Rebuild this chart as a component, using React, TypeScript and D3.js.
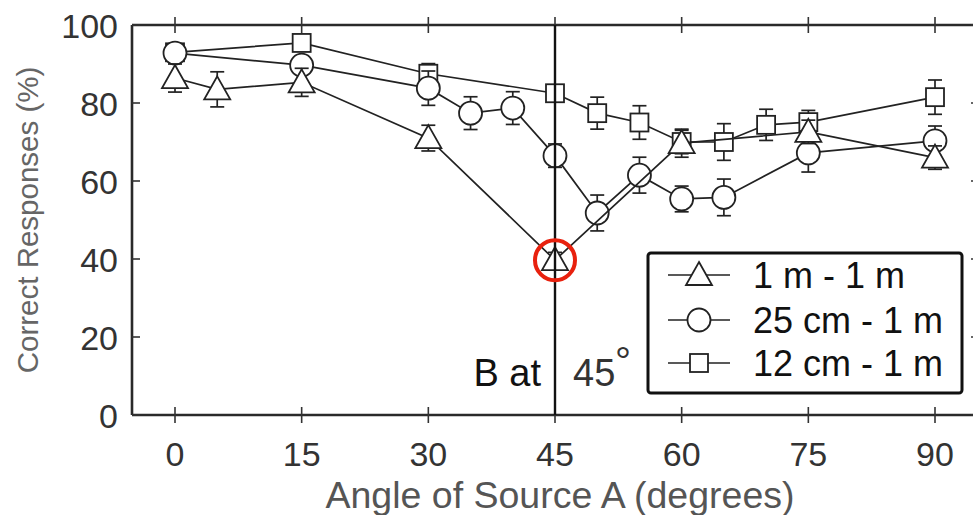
import React from "react";
import * as d3 from "d3";

const xTicks = [0, 15, 30, 45, 60, 75, 90];
const yTicks = [0, 20, 40, 60, 80, 100];

const triAngles = [0, 5, 15, 30, 45, 60, 75, 90];
const triValues = [86.4, 83.5, 85.3, 71, 39.7, 69.7, 72.6, 66];
const triErr = [3.6, 4.5, 3.6, 3.3, 2, 3.6, 3, 3];

const circAngles = [0, 15, 30, 35, 40, 45, 50, 55, 60, 65, 75, 90];
const circValues = [92.8, 89.7, 83.8, 77.4, 78.7, 66.5, 51.8, 61.5, 55.4, 55.8, 67.2, 70.3];
const circErr = [2, 2, 4.4, 4.2, 4.2, 3, 4.6, 4.6, 3.3, 4.7, 4.9, 3.8];

const sqAngles = [0, 15, 30, 45, 50, 55, 60, 65, 70, 75, 90];
const sqValues = [93, 95.4, 87.5, 82.5, 77.4, 75, 70, 70, 74.4, 75.1, 81.5];
const sqErr = [2, 2, 2.6, 2, 4.1, 4.3, 3, 4.7, 4, 3, 4.4];

const legendLabels = ["1 m - 1 m", "25 cm - 1 m", "12 cm - 1 m"];

const W = 973;
const H = 515;
const FONT = "'Liberation Sans', Arial, Helvetica, sans-serif";
const INK = "#222";

const x = d3.scaleLinear().domain([0, 90]).range([175, 935]);
const y = d3.scaleLinear().domain([0, 100]).range([415, 25]);

const frameL = 132;
const frameR = 979;

type Kind = "tri" | "circ" | "sq";

function Marker({ kind, cx, cy }: { kind: Kind; cx: number; cy: number }) {
  const common = { fill: "#fff", stroke: INK, strokeWidth: 1.8 };
  if (kind === "circ") return <circle cx={cx} cy={cy} r={11.5} {...common} />;
  if (kind === "sq") return <rect x={cx - 9} y={cy - 9} width={18} height={18} {...common} />;
  const p = `${cx},${cy - 13} ${cx + 13},${cy + 10} ${cx - 13},${cy + 10}`;
  return <polygon points={p} {...common} strokeLinejoin="miter" />;
}

function Series({ kind, angles, values, errs }: { kind: Kind; angles: number[]; values: number[]; errs: number[] }) {
  const pts = angles.map((a, i) => [x(a), y(values[i])] as [number, number]);
  const line = d3.line()(pts) || "";
  return (
    <g>
      <path d={line} fill="none" stroke={INK} strokeWidth={1.7} />
      {angles.map((a, i) => {
        const cx = x(a);
        const top = y(values[i] + errs[i]);
        const bot = y(values[i] - errs[i]);
        return (
          <g key={"e" + i} stroke={INK} strokeWidth={1.7}>
            <line x1={cx} x2={cx} y1={top} y2={bot} />
            <line x1={cx - 7} x2={cx + 7} y1={top} y2={top} />
            <line x1={cx - 7} x2={cx + 7} y1={bot} y2={bot} />
          </g>
        );
      })}
      {angles.map((a, i) => (
        <Marker key={"m" + i} kind={kind} cx={x(a)} cy={y(values[i])} />
      ))}
    </g>
  );
}

export default function App() {
  const legendRows = [275, 320, 363];
  const kinds: Kind[] = ["tri", "circ", "sq"];
  return (
    <svg width={W} height={H} style={{ position: "absolute", left: 0, top: 0, background: "#fff" }} fontFamily={FONT}>
      <rect x={0} y={0} width={W} height={H} fill="#fff" />
      {/* frame */}
      <g stroke="#2a2a2a" strokeWidth={2.6} fill="none">
        <line x1={frameL} x2={frameR} y1={y(100)} y2={y(100)} />
        <line x1={frameL} x2={frameR} y1={y(0)} y2={y(0)} />
        <line x1={frameL} x2={frameL} y1={y(100)} y2={y(0)} />
        <line x1={frameR} x2={frameR} y1={y(100)} y2={y(0)} />
      </g>
      {/* ticks */}
      <g stroke="#333" strokeWidth={1.6}>
        {xTicks.map((t) => (
          <g key={"xt" + t}>
            <line x1={x(t)} x2={x(t)} y1={y(0) - 8} y2={y(0) + 8} />
            <line x1={x(t)} x2={x(t)} y1={y(100) - 8} y2={y(100) + 8} />
          </g>
        ))}
        {yTicks.map((t) => (
          <g key={"yt" + t}>
            <line x1={frameL} x2={frameL + 8} y1={y(t)} y2={y(t)} />
            <line x1={frameR - 8} x2={frameR} y1={y(t)} y2={y(t)} />
          </g>
        ))}
      </g>
      {/* tick labels */}
      <g fill="#333" fontSize={34}>
        {xTicks.map((t) => (
          <text key={"xl" + t} x={x(t)} y={466} textAnchor="middle">
            {t}
          </text>
        ))}
        {yTicks.map((t) => (
          <text key={"yl" + t} x={118} y={y(t) + 13} textAnchor="end">
            {t}
          </text>
        ))}
      </g>
      {/* axis titles */}
      <text x={560} y={508} textAnchor="middle" fontSize={37.5} fill="#555">
        Angle of Source A (degrees)
      </text>
      <text transform={`translate(38,220) rotate(-90)`} textAnchor="middle" fontSize={29.5} fill="#666">
        Correct Responses (%)
      </text>
      {/* series */}
      <Series kind="sq" angles={sqAngles} values={sqValues} errs={sqErr} />
      <Series kind="circ" angles={circAngles} values={circValues} errs={circErr} />
      <Series kind="tri" angles={triAngles} values={triValues} errs={triErr} />
      {/* source B line */}
      <line x1={x(45)} x2={x(45)} y1={y(100)} y2={y(0)} stroke="#111" strokeWidth={2.4} />
      <text x={541} y={386} textAnchor="end" fontSize={38} fill="#111">
        B at
      </text>
      <text x={573} y={386} fontSize={38} fill="#333">
        45
      </text>
      <text x={615} y={375} fontSize={40} fill="#333">
        °
      </text>
      {/* red highlight */}
      <circle cx={x(45)} cy={y(triValues[4])} r={20} fill="none" stroke="#e8210e" strokeWidth={4} />
      {/* legend */}
      <rect x={648} y={253} width={314} height={140} rx={3} fill="#fff" stroke="#111" strokeWidth={3} />
      {legendLabels.map((lab, i) => (
        <g key={"lg" + i}>
          <line x1={668} x2={730} y1={legendRows[i]} y2={legendRows[i]} stroke={INK} strokeWidth={1.7} />
          <Marker kind={kinds[i]} cx={699} cy={legendRows[i]} />
          <text x={753} y={legendRows[i] + 13} fontSize={36} fill="#111">
            {lab}
          </text>
        </g>
      ))}
    </svg>
  );
}
